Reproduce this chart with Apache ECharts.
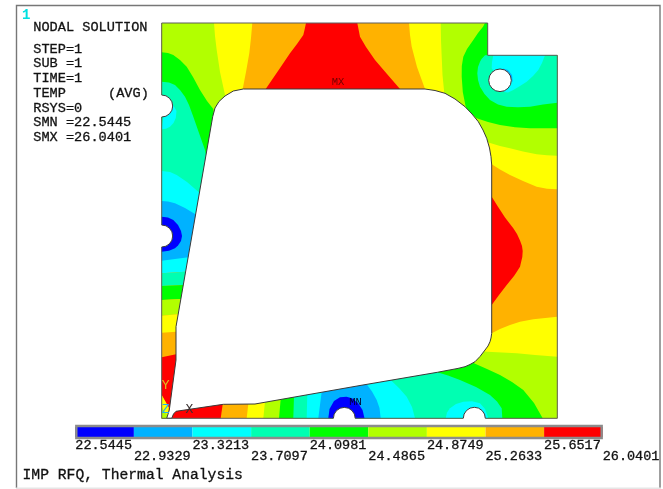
<!DOCTYPE html>
<html><head><meta charset="utf-8">
<style>html,body{margin:0;padding:0;background:#fff}#c{width:663px;height:489px}</style>
<script src="https://cdn.jsdelivr.net/npm/echarts@6/dist/echarts.min.js"></script>
</head><body><div id="c"></div>
<script>
// contour levels and legend
const levels = [22.5445,22.9329,23.3213,23.7097,24.0981,24.4865,24.8749,25.2633,25.6517,26.0401];
const levelLabels = ['22.5445','22.9329','23.3213','23.7097','24.0981','24.4865','24.8749','25.2633','25.6517','26.0401'];
const palette = ['#0000ff','#00b2ff','#00ffff','#00ffb2','#00ff00','#b2ff00','#ffff00','#ffb200','#ff0000'];

// geometry of the section, in drawing units
const body = [[161.7,23],[487.7,23],[487.7,55.3],[557.3,55.3],[557.3,418.3],[166.7,418.3],[161.7,418.3]];
const cavity = [[243.3,89],[425,89],[435,90.5],[445,93.3],[455,99],[465,106.7],[472,114],[478.3,121.7],[483,130],[486.7,138.3],[489.5,148],[491,156.7],[491.7,165],
 [491.7,333.3],[491,338],[490,341.7],[488,346],[485,350],[480,356.5],[475,361.7],[470,364.5],[465,366.7],[458,368.4],[437.3,372.3],[360,385.5],[255,404],[223.3,404.3],[176,411.3],[173.5,414],[171.7,418.3],
 [166.7,418.3],[169.3,410],[176,360],[176,326.7],[212.7,116.7],[215,108],[219,101.5],[225,96],[233.3,91]];
const holes = [[161.7,106,11,-90,90],[161.7,236,11,-90,90],[500,80.3,11.3,0,360],[344.3,418.3,10.9,180,360],[474.3,418.3,11,180,360]];

// contour regions, painted in order over the base level 7 fill
const topLeftYellow = [[161.7,23],[252.3,23],[251,38],[249.3,53.3],[246,72],[242.7,89],[245,200],[161.7,200]];
const topLeftLime = [[161.7,23],[214,23],[215,36],[216.7,50],[220,72],[225,95],[225,200],[161.7,200]];
const topLeftGreen = [[161.7,52.3],[168,53],[173.3,55],[180,60],[186.7,66.7],[193,77],[200,90],[207,101],[213.3,109],[225,200],[161.7,200]];
const upperLeftTeal = [[161.7,81.7],[169,82.5],[175,85],[180,90],[185,96.7],[189,105],[193.3,116.7],[199,133],[205,150],[215,200],[161.7,200]];
const upperHoleCyan = [[161.7,129.3],[166,128.8],[170,126.7],[173.5,123],[175.8,118],[176.5,111],[172,103],[165,106]];
const leftCyan = [[161.7,171],[170,172],[176.7,175],[187,182],[198.3,191.7],[215,205],[215,273],[185,271.7],[161.7,273.3]];
const leftAzure = [[161.7,201],[168,201.5],[175,203.3],[185,208],[195,214],[215,225],[215,257],[188.3,257.3],[161.7,260.7]];
const leftBlue = [[161.7,216.7],[168,217.5],[173.3,220],[178,225],[181,231],[182,236],[181,241],[178,245.5],[175,248.3],[169,250.8],[161.7,251.7]];
const lowerLeftTeal = [[161.7,273.3],[185,271.7],[200,271],[200,285],[183.3,285],[161.7,286]];
const lowerLeftGreen = [[161.7,286],[183.3,285],[200,285],[200,299],[180.7,299],[161.7,300]];
const lowerLeftLime = [[161.7,300],[180.7,299],[200,299],[200,314],[177.7,314.3],[161.7,315.7]];
const lowerLeftYellow = [[161.7,315.7],[177.7,314.3],[200,314],[200,331],[176,331.7],[161.7,332.7]];
const lowerLeftRed = [[161.7,357.3],[176,354.3],[185,354],[185,414],[168.3,406.7],[161.7,395]];
const tipYellow = [[161.7,395],[165,401],[168.3,406.7],[168,419],[161.7,419]];
const tipLime = [[161.7,407],[164,411],[167.5,415],[167,419],[161.7,419]];
const bottomRed = [[171,418.3],[171,405],[222.7,398],[222.7,404.3],[220.7,418.3]];

const topRed = [[306,23],[304.5,30],[303.3,35],[297,44],[290,53.3],[278,71],[265.7,89],[400,89],[387,74],[375,60],[366,47],[360,36.7],[357.3,23]];
const rightYellow = [[409,23],[410,35],[411.7,46.7],[417,67],[425,89],[480,165],[491.7,164.3],[500,169.5],[510,175],[523,181],[536.7,186.7],[547,188.7],[557.3,189.3],[557.3,55.3],[487.7,55.3],[487.7,23]];
const rightLime = [[440.7,23],[441,40],[441.7,56.7],[442.5,75],[444.3,93.3],[470,130],[489.3,142.7],[500,146],[510,148.3],[523,151.5],[536.7,154.3],[547,155.3],[557.3,155.7],[557.3,55.3],[487.7,55.3],[487.7,23]];
const rightGreen = [[485,23],[483,26.7],[478,33],[473.3,40],[467,49],[463.3,56.7],[461.8,66],[461.7,76.7],[462.8,92],[465.7,106.7],[470,113],[476.7,118.3],[488,122],[500,125],[515,127.3],[530,128.3],[557.3,128.3],[557.3,55.3],[487.7,55.3],[487.7,23]];
const rightTeal = [[485,55.3],[481.5,59],[480,61.7],[478,67],[477.3,73.3],[478,80],[480,86.7],[484.5,94],[490,100],[498,104.5],[506.7,106.7],[518,107.2],[530,106.7],[543,104.6],[557.3,102.7],[557.3,55.3]];
const rightCyan = [[493.3,55.3],[492,62],[491.7,68.3],[500,80],[504,92],[508,92.5],[513.3,90],[520,86],[526.7,81.7],[533,76],[538.3,70],[542,63],[545,55.3]];
const holeAzure = [[503,68.5],[508,70],[512,75],[512.8,82],[506,75]];
const rightRed = [[491.7,196.7],[498,206.7],[505,217.5],[510,224],[513.3,228.3],[517,234],[520,240.5],[522,246],[522.7,251],[522.3,257],[520,266.7],[517,271.5],[514,276],[506.7,285],[499,295],[491.7,305],[480,305],[480,197]];

const lowerYellow = [[248.3,395],[248.3,404],[246.7,418.3],[557.3,418.3],[557.3,316.7],[533.3,319.3],[520,321.8],[510,325],[500,329],[491.7,333.3],[480,340]];
const lowerLime = [[265,395],[265,401.7],[263.3,418.3],[557.3,418.3],[557.3,356.7],[535,355],[516.7,353.3],[487.3,351.7],[470,350]];
const lowerGreen = [[280.7,390],[280.7,399],[279,418.3],[542.7,418.3],[534,403],[523.3,390],[512,382],[500,375],[487,369],[474,363.3],[460,355]];
const lowerTeal = [[294,390],[294,396.7],[293.3,418.3],[502.3,418.3],[501.7,408.3],[497,401.5],[490,395],[476,387],[460,380],[448,375.5],[437.3,372.3],[430,365]];
const lowerCyan = [[307.3,385],[307.3,394.3],[306.7,418.3],[415,418.3],[412,407],[406.7,396.7],[399,388],[391.7,381],[385,375]];
const lowerAzure = [[321.7,385],[321.7,391.7],[318.3,418.3],[380.7,418.3],[379.5,408],[376.7,400],[372,391.5],[366.7,384.3],[360,378]];
const lowerBlue = [[328.3,418.3],[329.5,409],[334,401],[340,397.3],[346.5,396.7],[352,398.3],[358,403],[362.5,410],[364.5,418.3]];
const bottomIsland = [[445.7,418.3],[447,412.5],[450,408.3],[456,404],[463.3,401.7],[472,401.3],[480,403.3],[485,409],[488.3,418.3]];

const regions = [body,topLeftYellow,topLeftLime,topLeftGreen,upperLeftTeal,upperHoleCyan,leftCyan,leftAzure,leftBlue,lowerLeftTeal,lowerLeftGreen,lowerLeftLime,lowerLeftYellow,lowerLeftRed,tipYellow,tipLime,bottomRed,topRed,rightYellow,rightLime,rightGreen,rightTeal,rightCyan,holeAzure,rightRed,lowerYellow,lowerLime,lowerGreen,lowerTeal,lowerCyan,lowerAzure,lowerBlue,bottomIsland];
const regionLevel = [7,6,5,4,3,2,2,1,0,3,4,5,6,8,6,5,8,8,6,5,4,3,2,1,8,6,5,4,3,2,1,0,2];

// annotation text
const infoLines = [['NODAL SOLUTION',33.3,27.3],['STEP=1',33.3,49.3],['SUB =1',33.3,63.8],['TIME=1',33.3,78.7],['TEMP',33.3,93.7],['(AVG)',108,93.7],['RSYS=0',33.3,108.3],['SMN =22.5445',33.3,122.7],['SMX =26.0401',33.3,137.3]];
const modelTitle = 'IMP RFQ, Thermal Analysis';
const markers = [['MX',338,82.5,'#700000',10.5],['MN',355.5,402.5,'#00002a',10.5],['Y',165.7,385.7,'#dcc020',13],['Z',165.7,409.5,'#20b0f0',13],['X',189.3,409.5,'#3a3030',13]];

const mono = '"Liberation Mono", monospace';
const ink = '#111111';
const chart = echarts.init(document.getElementById('c'), null, {renderer:'canvas'});
const poly = (api, pts) => pts.map(p => api.coord(p));
chart.setOption({
  animation:false,
  backgroundColor:'#ffffff',
  grid:[{left:0,right:0,top:0,bottom:0},{left:75.3,width:527.4,top:427,height:10}],
  xAxis:[{gridIndex:0,type:'value',min:0,max:663,show:false},
         {gridIndex:1,type:'value',min:levels[0],max:levels[9],show:false}],
  yAxis:[{gridIndex:0,type:'value',min:0,max:489,inverse:true,show:false},
         {gridIndex:1,type:'value',min:0,max:1,show:false}],
  series:[
   {type:'custom',name:'contours',xAxisIndex:0,yAxisIndex:0,silent:true,clip:false,z:1,coordinateSystem:'cartesian2d',
    data:regions.map((r,i)=>[i]),
    renderItem:(p,api)=>({type:'polygon',shape:{points:poly(api,regions[api.value(0)])},
      style:{fill:palette[regionLevel[api.value(0)]],stroke:null}})},
   {type:'custom',name:'cavity',xAxisIndex:0,yAxisIndex:0,silent:true,clip:false,z:2,
    data:[[0]],
    renderItem:(p,api)=>({type:'polygon',shape:{points:poly(api,cavity)},style:{fill:'#fff',stroke:'#3a3a3a',lineWidth:1}})},
   {type:'custom',name:'outline',xAxisIndex:0,yAxisIndex:0,silent:true,clip:false,z:3,
    data:[[0]],
    renderItem:(p,api)=>({type:'polygon',shape:{points:poly(api,body)},style:{fill:'none',stroke:'#5c5c5c',lineWidth:1}})},
   {type:'custom',name:'holes',xAxisIndex:0,yAxisIndex:0,silent:true,clip:false,z:4,
    data:holes.map((h,i)=>[i]),
    renderItem:(p,api)=>{const h=holes[api.value(0)],c=api.coord([h[0],h[1]]),r=api.size([h[2],0])[0];
      return {type:'group',children:[
       {type:'circle',shape:{cx:c[0],cy:c[1],r:r},style:{fill:'#fff'}},
       {type:'arc',shape:{cx:c[0],cy:c[1],r:r,startAngle:h[3]*Math.PI/180,endAngle:h[4]*Math.PI/180,clockwise:true},style:{stroke:'#3a3a3a',fill:'none',lineWidth:1}}]};}},
   {type:'custom',name:'legendBar',xAxisIndex:1,yAxisIndex:1,silent:true,clip:false,z:5,
    data:palette.map((c,i)=>[levels[i],levels[i+1],i]),
    renderItem:(p,api)=>{const a=api.coord([api.value(0),1]),b=api.coord([api.value(1),0]);
      return {type:'rect',shape:{x:a[0],y:a[1],width:b[0]-a[0],height:b[1]-a[1]},style:{fill:palette[api.value(2)]}};}},
   {type:'custom',name:'legendFrame',xAxisIndex:1,yAxisIndex:1,silent:true,clip:false,z:6,
    data:[[0]],
    renderItem:(p,api)=>{const a=api.coord([levels[0],1]),b=api.coord([levels[9],0]);
      return {type:'rect',shape:{x:a[0]+1,y:a[1]-1,width:b[0]-a[0]-2,height:b[1]-a[1]+2},style:{fill:'none',stroke:'#8c8c8c',lineWidth:2.4}};}},
   {type:'custom',name:'legendLabels',xAxisIndex:1,yAxisIndex:1,silent:true,clip:false,z:7,
    data:levels.map((v,i)=>[v,i]),
    renderItem:(p,api)=>{const i=api.value(1),c=api.coord([api.value(0),0]);
      return {type:'text',x:c[0],y:c[1]+(i%2?19.3:8),style:{text:levelLabels[i],fill:ink,stroke:ink,lineWidth:0.3,font:'13.5px '+mono,align:'left',verticalAlign:'middle'}};}},
   {type:'custom',name:'info',xAxisIndex:0,yAxisIndex:0,silent:true,clip:false,z:7,
    data:infoLines.map((l,i)=>[i]),
    renderItem:(p,api)=>{const l=infoLines[api.value(0)],c=api.coord([l[1],l[2]]);
      return {type:'text',x:c[0],y:c[1],style:{text:l[0],fill:ink,stroke:ink,lineWidth:0.3,font:'13.6px '+mono,align:'left',verticalAlign:'middle'}};}},
   {type:'custom',name:'markers',xAxisIndex:0,yAxisIndex:0,silent:true,clip:false,z:8,
    data:markers.map((l,i)=>[i]),
    renderItem:(p,api)=>{const l=markers[api.value(0)],c=api.coord([l[1],l[2]]);
      return {type:'text',x:c[0],y:c[1],style:{text:l[0],fill:l[3],font:l[4]+'px '+mono,align:'center',verticalAlign:'middle'}};}}
  ],
  graphic:[
   {type:'polyline',z:0,shape:{points:[[16.5,488],[16.5,5.5],[660,5.5],[660,488]]},style:{fill:'none',stroke:'#777',lineWidth:1.4}},
   {type:'rect',z:0,shape:{x:16,y:487.5,width:645,height:1.5},style:{fill:'#e6e6e6'}},
   {type:'text',z:10,x:22,y:8,style:{text:'1',fill:'#00e0e0',font:'bold 14px '+mono}},
   {type:'text',z:10,x:22.5,y:475.3,style:{text:modelTitle,fill:ink,stroke:ink,lineWidth:0.3,font:'14.7px '+mono,verticalAlign:'middle'}}
  ]
});
</script></body></html>
